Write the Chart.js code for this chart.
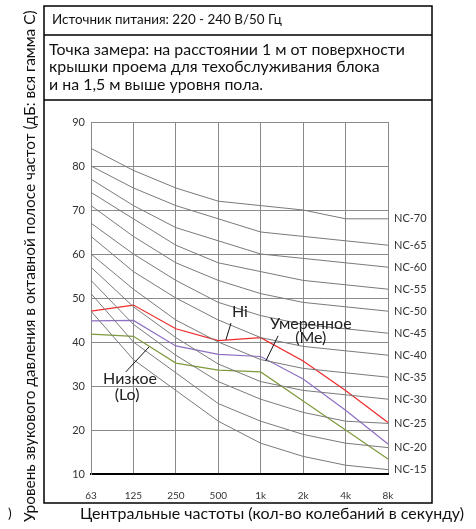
<!DOCTYPE html>
<html>
<head>
<meta charset="utf-8">
<script src="https://cdn.jsdelivr.net/npm/chart.js@4"></script>
<style>
  html, body { margin: 0; padding: 0; background: #fff; }
  #wrap { position: relative; width: 476px; height: 529px; }
</style>
</head>
<body>
<div id="wrap"><canvas id="ncChart" width="476" height="529"></canvas></div>
<script>
// Octave band centre frequencies
const frequencies = ['63', '125', '250', '500', '1k', '2k', '4k', '8k'];

// NC reference curves (dB)
const nc15 = [47, 36, 29, 22, 17, 14, 12, 11];
const nc20 = [51, 40, 33, 26, 22, 19, 17, 16];
const nc25 = [54, 44, 37, 31, 27, 24, 22, 21.5];
const nc30 = [57, 48, 41, 35, 31, 29, 28, 27];
const nc35 = [60, 52, 45, 40, 36, 34, 33, 32];
const nc40 = [64, 56, 50, 45, 41, 39, 38, 37];
const nc45 = [67, 60, 54, 49, 46, 44, 43, 42];
const nc50 = [71, 64, 58, 54, 51, 49, 48, 47];
const nc55 = [74, 68, 62, 58, 56, 54, 53, 52];
const nc60 = [77, 71, 66, 63, 60, 59, 58, 57];
const nc65 = [80, 75, 71, 68, 65, 64, 63, 62];
const nc70 = [84, 79, 75, 72, 71, 70, 68, 68];
const ncNames = ['NC-15', 'NC-20', 'NC-25', 'NC-30', 'NC-35', 'NC-40', 'NC-45', 'NC-50', 'NC-55', 'NC-60', 'NC-65', 'NC-70'];

// Measured unit levels (dB)
const hiValues = [47, 48.4, 43, 40.3, 41, 35.7, 29, 21.7];
const meValues = [44.8, 44.9, 39.1, 37.2, 36.7, 31.6, 24.5, 16.8];
const loValues = [41.8, 41.3, 35.2, 33.6, 33.2, 26.6, 20, 13.4];

// Y axis ticks
const yTicks = [10, 20, 30, 40, 50, 60, 70, 80, 90];

const ncCurves = [nc15, nc20, nc25, nc30, nc35, nc40, nc45, nc50, nc55, nc60, nc65, nc70];

const fontMain = 'Lato, "Noto Sans", sans-serif';

// Build datasets
const datasets = ncCurves.map(function (values, i) {
    return {
        label: ncNames[i],
        data: values,
        borderColor: '#7a7a7a',
        borderWidth: 1,
        pointRadius: 0,
        tension: 0,
        fill: false
    };
});
datasets.push({ label: 'Lo', data: loValues, borderColor: '#7f9a3c', borderWidth: 1.2, pointRadius: 0, fill: false });
datasets.push({ label: 'Me', data: meValues, borderColor: '#8e6fc4', borderWidth: 1.2, pointRadius: 0, fill: false });
datasets.push({ label: 'Hi', data: hiValues, borderColor: '#ee2a2a', borderWidth: 1.2, pointRadius: 0, fill: false });

// Font size that makes text span a given width
function fitSize(ctx, text, width) {
    ctx.font = '20px ' + fontMain;
    return 20 * width / ctx.measureText(text).width;
}

// Plugin for frame, header texts, NC labels, annotations and axis titles
const decorations = {
    id: 'decorations',
    afterDraw: function (chart) {
        const ctx = chart.ctx;
        const xs = chart.scales.x;
        const ys = chart.scales.y;
        ctx.save();

        // Outer frame and header separators
        ctx.strokeStyle = '#000';
        ctx.lineWidth = 1.5;
        ctx.strokeRect(44, 6, 388, 497);
        ctx.beginPath();
        ctx.moveTo(44, 35); ctx.lineTo(432, 35);
        ctx.moveTo(44, 100); ctx.lineTo(432, 100);
        ctx.stroke();

        ctx.fillStyle = '#111';
        ctx.textBaseline = 'middle';
        ctx.textAlign = 'left';
        let s = fitSize(ctx, 'Источник питания: 220 - 240 В/50 Гц', 230);
        ctx.font = s.toFixed(2) + 'px ' + fontMain;
        ctx.fillText('Источник питания: 220 - 240 В/50 Гц', 52, 20);

        s = fitSize(ctx, 'Точка замера: на расстоянии 1 м от поверхности', 356);
        ctx.font = s.toFixed(2) + 'px ' + fontMain;
        ctx.fillText('Точка замера: на расстоянии 1 м от поверхности', 49, 50);
        ctx.fillText('крышки проема для техобслуживания блока', 49, 67);
        ctx.fillText('и на 1,5 м выше уровня пола.', 49, 85);

        // NC curve labels at the right end
        ctx.font = '11px ' + fontMain;
        ctx.fillStyle = '#333';
        ncCurves.forEach(function (values, i) {
            const y = ys.getPixelForValue(values[values.length - 1]);
            ctx.fillText(ncNames[i], xs.right + 6, y);
        });

        // Annotations (positions in data units: category index, dB)
        ctx.font = '16px ' + fontMain;
        ctx.fillStyle = '#222';
        ctx.textAlign = 'center';
        function px(i) { return xs.getPixelForValue(i); }
        function py(v) { return ys.getPixelForValue(v); }
        ctx.fillText('Hi', px(3.51), py(46.8));
        ctx.fillText('Умеренное', px(5.18), py(44.2));
        ctx.fillText('(Me)', px(5.18), py(41.0));
        ctx.fillText('Низкое', px(0.92), py(31.6));
        ctx.fillText('(Lo)', px(0.85), py(27.9));

        ctx.strokeStyle = '#111';
        ctx.lineWidth = 1;
        ctx.beginPath();
        ctx.moveTo(px(3.30), py(44.3)); ctx.lineTo(px(3.18), py(40.5));
        ctx.moveTo(px(4.41), py(41.4)); ctx.lineTo(px(4.12), py(35.7));
        ctx.moveTo(px(0.82), py(33.2)); ctx.lineTo(px(1.37), py(38.9));
        ctx.stroke();

        // X axis title
        ctx.textAlign = 'left';
        ctx.fillStyle = '#111';
        const xTitle = 'Центральные частоты (кол-во колебаний в секунду)';
        ctx.font = fitSize(ctx, xTitle, 384).toFixed(2) + 'px ' + fontMain;
        ctx.fillText(xTitle, 80, 514);

        // Y axis title (rotated)
        const yTitle = 'Уровень звукового давления в октавной полосе частот (дБ: вся гамма С)';
        ctx.save();
        ctx.translate(30, 522);
        ctx.rotate(-Math.PI / 2);
        ctx.font = fitSize(ctx, yTitle, 512).toFixed(2) + 'px ' + fontMain;
        ctx.fillText(yTitle, 0, 0);
        ctx.restore();

        ctx.font = '14px ' + fontMain;
        ctx.fillText(')', 8, 513);

        ctx.restore();
    }
};

const config = {
    type: 'line',
    data: {
        labels: frequencies,
        datasets: datasets
    },
    options: {
        responsive: false,
        animation: false,
        layout: { padding: { top: 122, right: 88, bottom: 0, left: 0 } },
        plugins: {
            legend: { display: false },
            tooltip: { enabled: false }
        },
        scales: {
            x: {
                type: 'category',
                offset: false,
                afterFit: function (scale) { scale.height = 55; },
                grid: { color: '#8a8a8a', lineWidth: 1, drawTicks: false },
                border: { color: '#000', width: 2 },
                ticks: {
                    color: '#333',
                    padding: 16,
                    maxRotation: 0,
                    font: { family: fontMain, size: 10 }
                }
            },
            y: {
                min: 10,
                max: 90,
                afterFit: function (scale) { scale.width = 91; },
                afterBuildTicks: function (scale) {
                    scale.ticks = yTicks.map(function (v) { return { value: v }; });
                },
                grid: { color: '#8a8a8a', lineWidth: 1, drawTicks: false },
                border: { color: '#8a8a8a', width: 1 },
                ticks: {
                    color: '#333',
                    padding: 6,
                    font: { family: fontMain, size: 11 }
                }
            }
        }
    },
    plugins: [decorations]
};

new Chart(document.getElementById('ncChart').getContext('2d'), config);
</script>
</body>
</html>
